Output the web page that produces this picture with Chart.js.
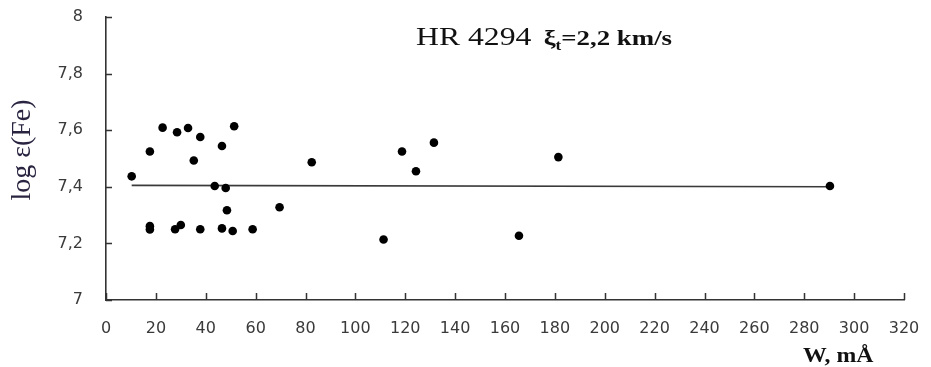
<!DOCTYPE html>
<html>
<head>
<meta charset="utf-8">
<script src="https://cdn.jsdelivr.net/npm/chart.js@4.4.1/dist/chart.umd.min.js"></script>
<style>
  html, body { margin: 0; padding: 0; background: #ffffff; }
  #wrap { width: 931px; height: 367px; position: relative; }
</style>
</head>
<body>
<div id="wrap"><canvas id="c" width="931" height="367"></canvas></div>
<script>
// ---- data ----
const wValues = [10.3, 17.6, 22.7, 28.5, 32.9, 37.8, 35.2, 46.5, 51.4, 43.6, 48.0, 48.5,
                 17.6, 17.6, 27.7, 30.0, 37.8, 46.5, 50.8, 58.8, 69.6, 82.5, 111.3,
                 118.7, 124.3, 131.5, 165.6, 181.4, 290.3];
const logEpsFe = [7.437, 7.525, 7.609, 7.593, 7.608, 7.576, 7.493, 7.544, 7.614, 7.403, 7.396, 7.317,
                  7.261, 7.249, 7.250, 7.265, 7.250, 7.253, 7.244, 7.250, 7.328, 7.487, 7.214,
                  7.525, 7.455, 7.556, 7.227, 7.505, 7.403];
const trendW = [10.3, 290.3];
const trendLogEps = [7.405, 7.400];
const xTicks = [0, 20, 40, 60, 80, 100, 120, 140, 160, 180, 200, 220, 240, 260, 280, 300, 320];
const yTicks = [7, 7.2, 7.4, 7.6, 7.8, 8];
const titleMain = 'HR 4294';
const titleXi = 'ξ';
const titleXiSub = 't';
const titleRest = '=2,2 km/s';
const xAxisTitle = 'W, mÅ';
const yAxisTitle = 'log ε(Fe)';

const points = wValues.map((w, i) => ({ x: w, y: logEpsFe[i] }));
const trend = trendW.map((w, i) => ({ x: w, y: trendLogEps[i] }));

const fmt = v => {
  const r = Math.round(v * 10) / 10;
  return Number.isInteger(r) ? String(r) : r.toFixed(1).replace('.', ',');
};

const decorPlugin = {
  id: 'decor',
  afterDraw(chart) {
    const ctx = chart.ctx;
    const xs = chart.scales.x, ys = chart.scales.y;
    const area = chart.chartArea;
    ctx.save();
    // inside tick marks
    ctx.strokeStyle = '#333333';
    ctx.lineWidth = 1.5;
    ctx.beginPath();
    yTicks.forEach(v => {
      const py = Math.round(ys.getPixelForValue(v)) + 0.5;
      ctx.moveTo(area.left, py);
      ctx.lineTo(area.left + 6, py);
    });
    xTicks.forEach(v => {
      const px = Math.round(xs.getPixelForValue(v)) + 0.5;
      ctx.moveTo(px, area.bottom);
      ctx.lineTo(px, area.bottom - 7);
    });
    ctx.stroke();

    // title
    ctx.fillStyle = '#111111';
    ctx.textBaseline = 'alphabetic';
    ctx.textAlign = 'left';
    ctx.save();
    ctx.translate(416, 45);
    ctx.scale(1.22, 1);
    let x = 0;
    ctx.font = '26px "Liberation Serif", "Times New Roman", serif';
    ctx.fillText(titleMain, x, 0);
    x += ctx.measureText(titleMain).width + 10;
    ctx.font = 'bold 22px "Liberation Serif", "Times New Roman", serif';
    ctx.fillText(titleXi, x, 0);
    x += ctx.measureText(titleXi).width;
    ctx.font = 'bold 14px "Liberation Serif", "Times New Roman", serif';
    ctx.fillText(titleXiSub, x, 5);
    x += ctx.measureText(titleXiSub).width;
    ctx.font = 'bold 22px "Liberation Serif", "Times New Roman", serif';
    ctx.fillText(titleRest, x, 0);
    ctx.restore();

    // x axis title
    ctx.save();
    ctx.translate(803, 362);
    ctx.scale(1.08, 1);
    ctx.font = 'bold 22px "Liberation Serif", "Times New Roman", serif';
    ctx.fillStyle = '#111111';
    ctx.fillText(xAxisTitle, 0, 0);
    ctx.restore();

    // y axis title
    ctx.save();
    ctx.translate(23, 150);
    ctx.rotate(-Math.PI / 2);
    ctx.textAlign = 'center';
    ctx.textBaseline = 'middle';
    ctx.font = '28px "Liberation Serif", "Times New Roman", serif';
    ctx.fillStyle = '#2a2440';
    ctx.fillText(yAxisTitle, 0, 0);
    ctx.restore();

    ctx.restore();
  }
};

new Chart(document.getElementById('c'), {
  type: 'scatter',
  data: {
    datasets: [
      {
        type: 'line',
        data: trend,
        borderColor: '#3a3a3a',
        borderWidth: 1.6,
        pointRadius: 0,
        fill: false,
        order: 2
      },
      {
        type: 'scatter',
        data: points,
        backgroundColor: '#000000',
        borderWidth: 0,
        pointRadius: 4.3,
        order: 1
      }
    ]
  },
  options: {
    responsive: false,
    animation: false,
    devicePixelRatio: 1,
    layout: { padding: { left: 0, right: 27, top: 17, bottom: 0 } },
    plugins: { legend: { display: false }, tooltip: { enabled: false }, title: { display: false } },
    scales: {
      x: {
        type: 'linear',
        min: 0, max: 320,
        afterBuildTicks: s => { s.ticks = xTicks.map(v => ({ value: v })); },
        afterFit: s => { s.height = 67; s.paddingLeft = 0; s.paddingRight = 0; },
        grid: { display: false, drawTicks: false },
        border: { display: true, color: '#333333', width: 1.6 },
        ticks: {
          padding: 19,
          color: '#3a3a3a',
          font: { family: '"DejaVu Sans", Verdana, sans-serif', size: 16 },
          callback: v => String(v),
          maxRotation: 0, autoSkip: false
        }
      },
      y: {
        type: 'linear',
        min: 7, max: 8,
        afterBuildTicks: s => { s.ticks = yTicks.map(v => ({ value: v })); },
        afterFit: s => { s.width = 106; s.paddingTop = 0; s.paddingBottom = 0; },
        grid: { display: false, drawTicks: false },
        border: { display: true, color: '#333333', width: 1.6 },
        ticks: {
          padding: 23,
          color: '#3a3a3a',
          font: { family: '"DejaVu Sans", Verdana, sans-serif', size: 16 },
          callback: v => fmt(v)
        }
      }
    }
  },
  plugins: [decorPlugin]
});
</script>
</body>
</html>
